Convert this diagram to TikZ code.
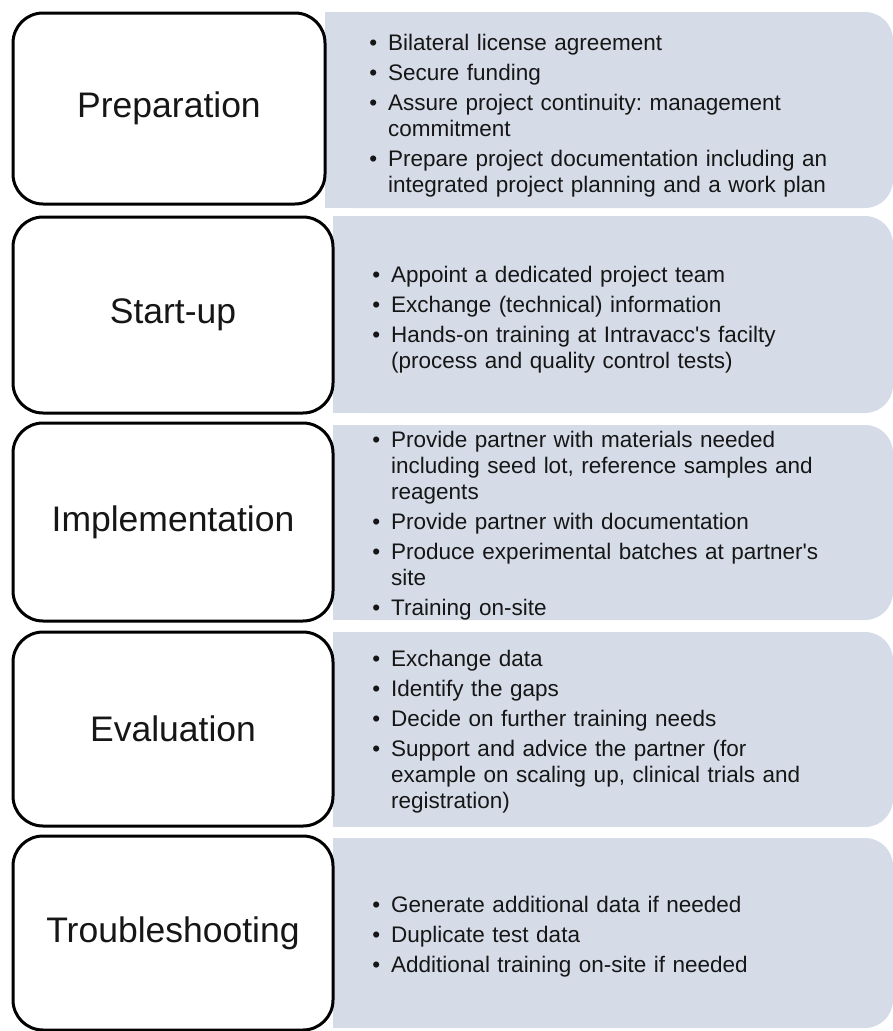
\documentclass[tikz,border=0pt]{standalone}
\usepackage{fontspec}
\setmainfont{Liberation Sans}
\usetikzlibrary{positioning}
\frenchspacing

\definecolor{panelbg}{RGB}{213,220,232}
\definecolor{ink}{RGB}{22,22,22}

% bullet list used inside the grey panels
\newenvironment{tasklist}{%
  \begin{list}{\textbullet}{\leftmargin=19pt\labelwidth=8pt\labelsep=11pt
    \itemsep=4pt\parsep=0pt\topsep=0pt\partopsep=0pt}}%
  {\end{list}}

\begin{document}
\begin{tikzpicture}[x=1pt, y=-1pt,
    phase/.style={draw=black, line width=3pt, rounded corners=30pt, inner sep=0pt,
      align=center, text=ink, font=\fontsize{35.5}{40}\selectfont},
    tasks/.style={anchor=west, inner sep=0pt, text width=500pt, align=left,
      text=ink, font=\fontsize{22.5}{26}\selectfont}]
        \useasboundingbox (0,0) rectangle (893,1031);

        % grey panels, rounded on the right only
        \fill[panelbg, rounded corners=28pt] (325,12) rectangle (893,208);
        \fill[panelbg] (325,12) rectangle (420,208);
        \fill[panelbg, rounded corners=28pt] (333,216) rectangle (893,413);
        \fill[panelbg] (333,216) rectangle (420,413);
        \fill[panelbg, rounded corners=28pt] (333,425) rectangle (893,620);
        \fill[panelbg] (333,425) rectangle (420,620);
        \fill[panelbg, rounded corners=28pt] (333,632) rectangle (893,827);
        \fill[panelbg] (333,632) rectangle (420,827);
        \fill[panelbg, rounded corners=28pt] (333,838) rectangle (893,1028);
        \fill[panelbg] (333,838) rectangle (420,1028);

        \node[phase, minimum width=312pt, minimum height=191pt] (A) at (169,108.5) {Preparation};
        \node[phase, minimum width=320pt, minimum height=196pt] (B) at (173,315) {Start-up};
        \node[phase, minimum width=320pt, minimum height=198pt] (C) at (173,522) {Implementation};
        \node[phase, minimum width=320pt, minimum height=194pt] (D) at (173,729) {Evaluation};
        \node[phase, minimum width=320pt, minimum height=194pt] (E) at (173,933) {Troubleshooting};

        \node[tasks] (A1) at (369,111) {\begin{tasklist}
            \item Bilateral license agreement
            \item Secure funding
            \item Assure project continuity: management\\ commitment
            \item Prepare project documentation including an\\ integrated project planning and a work plan
          \end{tasklist}};
        \node[tasks] (B1) at (372,315) {\begin{tasklist}
            \item Appoint a dedicated project team
            \item Exchange (technical) information
            \item Hands-on training at Intravacc\textquotesingle s facilty\\ (process and quality control tests)
          \end{tasklist}};
        \node[tasks] (C1) at (372,521) {\begin{tasklist}
            \item Provide partner with materials needed\\ including seed lot, reference samples and\\ reagents
            \item Provide partner with documentation
            \item Produce experimental batches at partner\textquotesingle s\\ site
            \item Training on-site
          \end{tasklist}};
        \node[tasks] (D1) at (372,727) {\begin{tasklist}
            \item Exchange data
            \item Identify the gaps
            \item Decide on further training needs
            \item Support and advice the partner (for\\ example on scaling up, clinical trials and\\ registration)
          \end{tasklist}};
        \node[tasks] (E1) at (372,932) {\begin{tasklist}
            \item Generate additional data if needed
            \item Duplicate test data
            \item Additional training on-site if needed
          \end{tasklist}};
    \end{tikzpicture}
\end{document}
